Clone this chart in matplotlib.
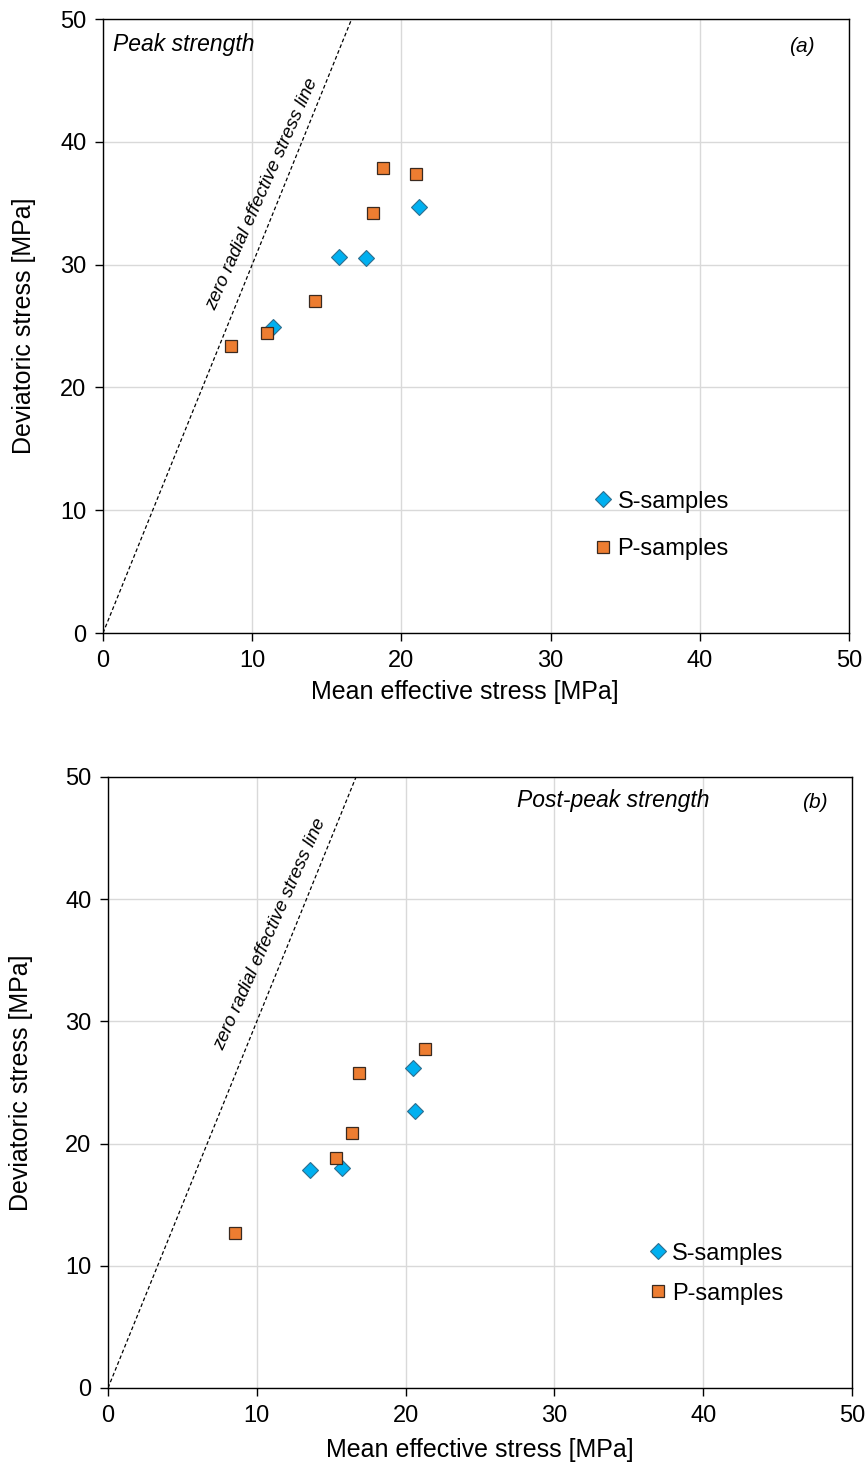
import matplotlib
matplotlib.use("Agg")
import matplotlib.pyplot as plt
import numpy as np

plt.rcParams["font.family"] = ["Liberation Sans", "DejaVu Sans"]

# -- peak strength (a) --
peak_s_p = [11.4, 15.8, 17.6, 21.2]
peak_s_q = [24.9, 30.6, 30.5, 34.7]
peak_p_p = [8.6, 11.0, 14.2, 18.1, 18.8, 21.0]
peak_p_q = [23.4, 24.4, 27.0, 34.2, 37.9, 37.4]

# -- post-peak strength (b) --
post_s_p = [13.6, 15.7, 20.5, 20.6]
post_s_q = [17.8, 18.0, 26.2, 22.7]
post_p_p = [8.5, 15.3, 16.4, 16.9, 21.3]
post_p_q = [12.7, 18.8, 20.9, 25.8, 27.7]

# zero radial effective stress: q = 3 p
zero_p = [0.0, 50.0 / 3]
zero_q = [0.0, 50.0]

ticks = [0, 10, 20, 30, 40, 50]

S_COLOR = "#00B0F0"
P_COLOR = "#ED7D31"


def draw_panel(ax, s_p, s_q, p_p, p_q, title, tag, title_xy, tag_xy,
               line_label_xy, legend_anchor, legend_spacing,
               xlabel_pos, xpad, ypad):
    ax.set_xlim(0, 50)
    ax.set_ylim(0, 50)
    ax.set_xticks(ticks)
    ax.set_yticks(ticks)
    ax.grid(True, color="#D9D9D9", linewidth=1.0)
    ax.set_axisbelow(True)
    for sp in ax.spines.values():
        sp.set_color("black")
        sp.set_linewidth(1.0)
    ax.tick_params(direction="out", length=6, width=1.0, labelsize=17,
                   pad=6)

    ax.plot(zero_p, zero_q, color="black", linestyle=(0, (3, 2)),
            linewidth=0.9, zorder=2)
    ax.text(*line_label_xy, "zero radial effective stress line",
            fontsize=13.5, style="italic", rotation=66,
            rotation_mode="anchor", ha="center", va="center")

    ax.plot(s_p, s_q, linestyle="none", marker="D", markersize=8,
            markerfacecolor=S_COLOR, markeredgecolor="#2E6E8E",
            markeredgewidth=0.8, label="S-samples", zorder=3)
    ax.plot(p_p, p_q, linestyle="none", marker="s", markersize=8,
            markerfacecolor=P_COLOR, markeredgecolor="#3A2A20",
            markeredgewidth=0.9, label="P-samples", zorder=3)

    ax.text(*title_xy, title, transform=ax.transAxes, fontsize=16.5,
            style="italic", ha="left", va="center")
    ax.text(*tag_xy, tag, transform=ax.transAxes, fontsize=15,
            style="italic", ha="center", va="center")

    ax.set_xlabel("Mean effective stress [MPa]", fontsize=18, labelpad=xpad)
    ax.xaxis.label.set_x(xlabel_pos)
    ax.set_ylabel("Deviatoric stress [MPa]", fontsize=18, labelpad=ypad)

    ax.legend(loc="upper left", bbox_to_anchor=legend_anchor,
              frameon=False, fontsize=17, handletextpad=0.1,
              handlelength=1.0, labelspacing=legend_spacing, borderpad=0)


fig = plt.figure(figsize=(8.67, 14.63), dpi=100)
ax1 = fig.add_axes([0.1188, 0.5673, 0.8604, 0.4197])
ax2 = fig.add_axes([0.1246, 0.0513, 0.8581, 0.4176])

draw_panel(ax1, peak_s_p, peak_s_q, peak_p_p, peak_p_q,
           "Peak strength", "(a)", (0.013, 0.958), (0.937, 0.955),
           (10.7, 35.7), (0.639, 0.251), 1.07, 0.485, 6, 17)
draw_panel(ax2, post_s_p, post_s_q, post_p_p, post_p_q,
           "Post-peak strength", "(b)", (0.55, 0.962), (0.95, 0.958),
           (10.9, 37.1), (0.707, 0.257), 0.76, 0.5, 8, 23)

fig.savefig("out.png", dpi=100)
